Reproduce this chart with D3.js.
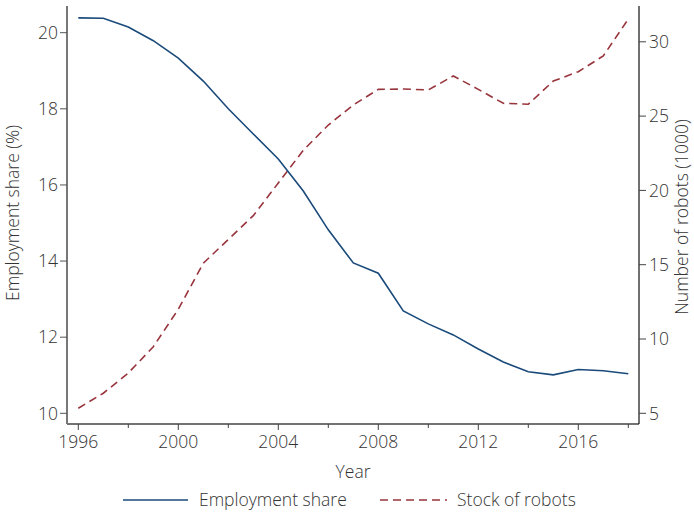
<!DOCTYPE html>
<html>
<head>
<meta charset="utf-8">
<script src="https://cdn.jsdelivr.net/npm/d3@7"></script>
<style>
  html, body { margin: 0; padding: 0; background: #fff; }
  svg text { font-family: "Open Sans", "Noto Sans", sans-serif; font-weight: 300; fill: #333; }
</style>
</head>
<body>
<svg id="chart" width="694" height="512"></svg>
<script>
// Years 1996–2018
const years = [1996, 1997, 1998, 1999, 2000, 2001, 2002, 2003, 2004, 2005, 2006, 2007,
               2008, 2009, 2010, 2011, 2012, 2013, 2014, 2015, 2016, 2017, 2018];
// Employment share in manufacturing (%)
const employmentShare = [20.39, 20.38, 20.15, 19.79, 19.33, 18.73, 18.00, 17.34, 16.68, 15.84, 14.82, 13.95,
                         13.68, 12.69, 12.35, 12.06, 11.69, 11.35, 11.09, 11.01, 11.15, 11.12, 11.04];
// Operational stock of industrial robots (thousands)
const robotStock = [5.34, 6.35, 7.71, 9.48, 12.0, 15.1, 16.7, 18.3, 20.5, 22.7, 24.4, 25.75,
                    26.80, 26.82, 26.76, 27.70, 26.80, 25.86, 25.80, 27.36, 27.99, 29.05, 31.53];
const xTicks = [1996, 2000, 2004, 2008, 2012, 2016];
const xMinorTicks = [1998, 2002, 2006, 2010, 2014, 2018];
const leftTicks = [10, 12, 14, 16, 18, 20];
const rightTicks = [5, 10, 15, 20, 25, 30];

const svg = d3.select("#chart");
const FS = 17.5;

const x = d3.scaleLinear().domain([1996, 2018]).range([78.3, 628.3]);
const yL = d3.scaleLinear().domain([10, 20]).range([413.3, 32.7]);
const yR = d3.scaleLinear().domain([5, 30]).range([413.3, 41.8]);

const plotTop = 6, plotBottom = 424;
const plotLeft = 67, plotRight = 639;

// Bottom axis
const gx = svg.append("g").attr("transform", `translate(0,${plotBottom})`);
gx.append("line").attr("x1", plotLeft).attr("x2", plotRight)
  .attr("stroke", "#444").attr("stroke-width", 1.5);
gx.selectAll(".major").data(xTicks).enter().append("line")
  .attr("x1", d => x(d)).attr("x2", d => x(d)).attr("y1", 0).attr("y2", 6)
  .attr("stroke", "#444").attr("stroke-width", 1);
gx.selectAll(".minor").data(xMinorTicks).enter().append("line")
  .attr("x1", d => x(d)).attr("x2", d => x(d)).attr("y1", 0).attr("y2", 4)
  .attr("stroke", "#444").attr("stroke-width", 1);
gx.selectAll("text").data(xTicks).enter().append("text")
  .attr("x", d => x(d)).attr("y", 24).attr("text-anchor", "middle")
  .attr("font-size", FS).text(d => d);

// Left axis
const gl = svg.append("g").attr("transform", `translate(${plotLeft},0)`);
gl.append("line").attr("y1", plotTop).attr("y2", plotBottom)
  .attr("stroke", "#777").attr("stroke-width", 2);
gl.selectAll(".t").data(leftTicks).enter().append("line")
  .attr("x1", -7).attr("x2", 0).attr("y1", d => yL(d)).attr("y2", d => yL(d))
  .attr("stroke", "#555").attr("stroke-width", 1);
gl.selectAll("text").data(leftTicks).enter().append("text")
  .attr("x", -9).attr("y", d => yL(d)).attr("dy", "0.36em").attr("text-anchor", "end")
  .attr("font-size", FS).text(d => d);

// Right axis
const gr = svg.append("g").attr("transform", `translate(${plotRight},0)`);
gr.append("line").attr("y1", plotTop).attr("y2", plotBottom)
  .attr("stroke", "#111").attr("stroke-width", 1.2);
gr.selectAll(".t").data(rightTicks).enter().append("line")
  .attr("x1", 0).attr("x2", 7).attr("y1", d => yR(d)).attr("y2", d => yR(d))
  .attr("stroke", "#444").attr("stroke-width", 1);
gr.selectAll("text").data(rightTicks).enter().append("text")
  .attr("x", 10).attr("y", d => yR(d)).attr("dy", "0.36em").attr("text-anchor", "start")
  .attr("font-size", FS).text(d => d);

// Axis titles
svg.append("text").attr("x", 353).attr("y", 478).attr("text-anchor", "middle")
  .attr("font-size", FS).text("Year");
svg.append("text").attr("transform", "translate(19,213) rotate(-90)")
  .attr("text-anchor", "middle").attr("font-size", FS).text("Employment share (%)");
svg.append("text").attr("transform", "translate(688,217) rotate(-90)")
  .attr("text-anchor", "middle").attr("font-size", FS).text("Number of robots (1000)");

// Series
const lineL = d3.line().x((d, i) => x(years[i])).y(d => yL(d));
const lineR = d3.line().x((d, i) => x(years[i])).y(d => yR(d));

svg.append("path").datum(robotStock).attr("d", lineR)
  .attr("fill", "none").attr("stroke", "#98343c").attr("stroke-width", 1.6)
  .attr("stroke-dasharray", "8,5");
svg.append("path").datum(employmentShare).attr("d", lineL)
  .attr("fill", "none").attr("stroke", "#1a4a7a").attr("stroke-width", 1.6);

// Legend
const lg = svg.append("g");
lg.append("line").attr("x1", 123).attr("x2", 188).attr("y1", 500).attr("y2", 500)
  .attr("stroke", "#1a4a7a").attr("stroke-width", 1.6);
lg.append("text").attr("x", 199).attr("y", 500).attr("dy", "0.36em")
  .attr("font-size", FS).text("Employment share");
lg.append("line").attr("x1", 380).attr("x2", 447).attr("y1", 500).attr("y2", 500)
  .attr("stroke", "#98343c").attr("stroke-width", 1.6).attr("stroke-dasharray", "8,5");
lg.append("text").attr("x", 457).attr("y", 500).attr("dy", "0.36em")
  .attr("font-size", FS).text("Stock of robots");
</script>
</body>
</html>
